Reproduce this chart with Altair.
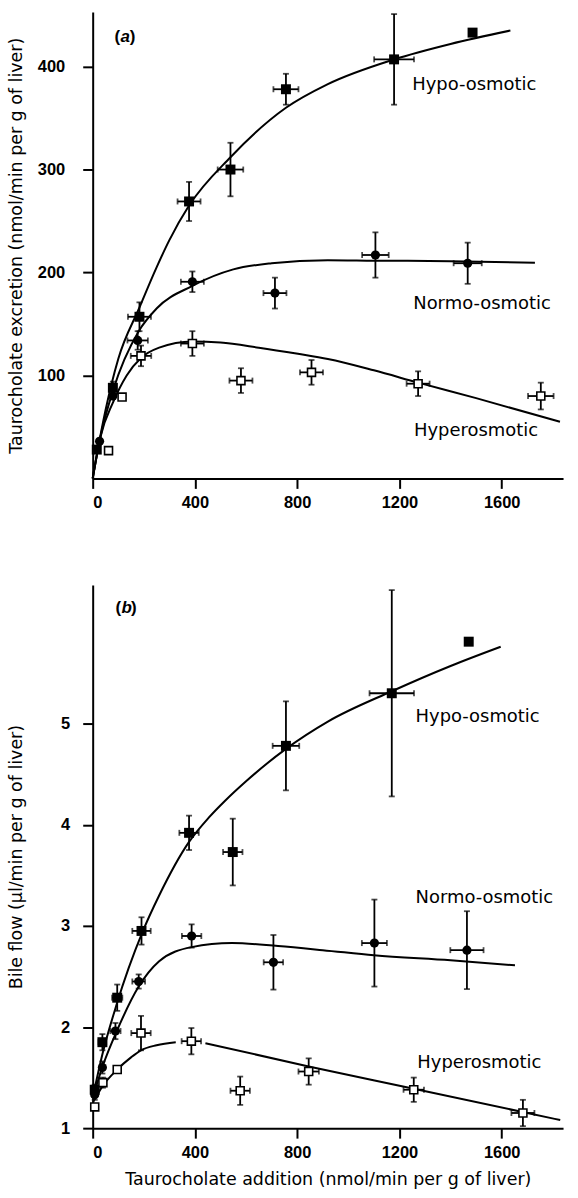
import altair as alt
import pandas as pd

X_TICKS = [0, 400, 800, 1200, 1600]
A_Y_TICKS = [100, 200, 300, 400]
B_Y_TICKS = [1, 2, 3, 4, 5]

# ---------------- Panel (a): taurocholate excretion ----------------
a_hypo_x = [16, 79, 183, 377, 539, 756, 1179, 1486]
a_hypo_y = [28, 88, 157, 269, 300, 378, 407, 433]
a_hypo_xerr = [0, 0, 45, 45, 50, 49, 78, 0]
a_hypo_yerr = [0, 6, 14, 19, 26, 15, 44, 0]

a_normo_x = [27, 79, 176, 390, 713, 1106, 1467]
a_normo_y = [36, 80, 134, 191, 180, 217, 209]
a_normo_xerr = [0, 0, 40, 45, 45, 52, 55]
a_normo_yerr = [0, 0, 9, 10, 15, 22, 20]

a_hyper_x = [62, 115, 189, 390, 580, 856, 1273, 1753]
a_hyper_y = [27, 79, 119, 131, 95, 103, 92, 80]
a_hyper_xerr = [0, 0, 40, 45, 45, 45, 45, 50]
a_hyper_yerr = [0, 0, 10, 12, 12, 12, 12, 13]

a_hypo_cx = [0, 20, 50, 100, 183, 250, 299, 377, 539, 756, 920, 1179, 1400, 1634]
a_hypo_cy = [0, 28, 66, 116, 166, 205, 231, 265, 312, 360, 383, 407, 422, 435]
a_normo_cx = [0, 30, 79, 180, 250, 390, 550, 700, 920, 1100, 1400, 1730]
a_normo_cy = [0, 40, 85, 143, 165, 187, 203, 209, 212, 211.5, 211, 209.5]
a_hyper_cx = [0, 30, 80, 133, 189, 260, 390, 500, 650, 803, 920, 1100, 1273, 1500, 1828]
a_hyper_cy = [0, 40, 74, 100, 117, 127, 133, 132, 127, 121, 116, 105, 93, 78, 55]

a_label_text = ["Hypo-osmotic", "Normo-osmotic", "Hyperosmotic"]
a_label_x = [1250, 1254, 1257]
a_label_y = [382, 169, 46.5]

# ---------------- Panel (b): bile flow ----------------
b_hypo_x = [8, 38, 96, 191, 377, 548, 756, 1170, 1471]
b_hypo_y = [1.38, 1.85, 2.29, 2.95, 3.92, 3.73, 4.78, 5.30, 5.81]
b_hypo_xerr = [0, 15, 20, 36, 38, 38, 52, 87, 0]
b_hypo_yerr = [0.05, 0.08, 0.13, 0.135, 0.17, 0.33, 0.44, 1.02, 0]

b_normo_x = [8, 38, 89, 180, 387, 707, 1102, 1464]
b_normo_y = [1.33, 1.60, 1.96, 2.45, 2.90, 2.64, 2.83, 2.76]
b_normo_xerr = [0, 0, 20, 25, 38, 38, 49, 65]
b_normo_yerr = [0.05, 0.06, 0.08, 0.07, 0.115, 0.27, 0.43, 0.385]

b_hyper_x = [8, 40, 96, 189, 386, 577, 845, 1256, 1683]
b_hyper_y = [1.21, 1.45, 1.58, 1.94, 1.86, 1.37, 1.56, 1.38, 1.15]
b_hyper_xerr = [0, 0, 0, 38, 38, 38, 40, 40, 45]
b_hyper_yerr = [0, 0.05, 0, 0.17, 0.13, 0.14, 0.13, 0.12, 0.13]

b_hypo_cx = [0, 40, 92, 195, 260, 377, 454, 519, 600, 756, 920, 1170, 1400, 1596]
b_hypo_cy = [1.30, 1.75, 2.21, 2.94, 3.30, 3.83, 4.07, 4.24, 4.43, 4.75, 5.02, 5.32, 5.57, 5.76]
b_normo_cx = [0, 40, 96, 180, 260, 387, 545, 725, 900, 1100, 1400, 1652]
b_normo_cy = [1.30, 1.62, 1.97, 2.40, 2.65, 2.79, 2.83, 2.80, 2.76, 2.71, 2.66, 2.61]
b_hyper_cx1 = [0, 40, 96, 150, 189, 250, 325]
b_hyper_cy1 = [1.25, 1.42, 1.58, 1.70, 1.77, 1.82, 1.85]
b_hyper_cx2 = [441, 845, 1256, 1829]
b_hyper_cy2 = [1.84, 1.61, 1.39, 1.08]

b_label_text = ["Hypo-osmotic", "Normo-osmotic", "Hyperosmotic"]
b_label_x = [1263, 1263, 1270]
b_label_y = [5.07, 3.28, 1.64]

TEXT_FONT = "DejaVu Sans"
NUM_FONT = "Liberation Sans"


def pts_df(x, y, xerr, yerr, kind):
    d = pd.DataFrame({"x": x, "y": y, "xerr": xerr, "yerr": yerr})
    d["kind"] = kind
    d["xlo"] = d["x"] - d["xerr"]
    d["xhi"] = d["x"] + d["xerr"]
    d["ylo"] = d["y"] - d["yerr"]
    d["yhi"] = d["y"] + d["yerr"]
    return d


def curve_df(x, y, name):
    return pd.DataFrame({"x": x, "y": y, "series": name})


def panel(pts, curves, labels, tag_x, tag_y, tag_letter, ydom, yticks, height,
          xtitle, ytitle, ylabelpad):
    xs = alt.Scale(domain=[0, 1840], nice=False, zero=False)
    ys = alt.Scale(domain=ydom, nice=False, zero=False)
    common = dict(labelFont=NUM_FONT, labelFontWeight="bold", labelFontSize=16.5,
                  labelColor="black")
    if xtitle:
        xax = alt.Axis(values=X_TICKS, format="d", title=xtitle, titlePadding=10,
                       labelPadding=6, **common)
    else:
        xax = alt.Axis(values=X_TICKS, format="d", title=None, labelPadding=6, **common)
    yax = alt.Axis(values=yticks, format="d", title=ytitle, titleX=-76,
                   titleY=height / 2, titleAngle=270, titleAlign="center",
                   titleBaseline="middle", labelPadding=ylabelpad, **common)
    X = alt.X("x:Q", scale=xs, axis=xax)
    Y = alt.Y("y:Q", scale=ys, axis=yax)

    yerr = pts[pts["yerr"] > 0]
    xerr = pts[pts["xerr"] > 0]

    vrule = alt.Chart(yerr).mark_rule(color="black", strokeWidth=1.8).encode(
        x=alt.X("x:Q", scale=xs), y=alt.Y("ylo:Q", scale=ys), y2="yhi:Q")
    vcap_lo = alt.Chart(yerr).mark_tick(color="black", orient="horizontal", size=6, thickness=1.8).encode(
        x=alt.X("x:Q", scale=xs), y=alt.Y("ylo:Q", scale=ys))
    vcap_hi = alt.Chart(yerr).mark_tick(color="black", orient="horizontal", size=6, thickness=1.8).encode(
        x=alt.X("x:Q", scale=xs), y=alt.Y("yhi:Q", scale=ys))
    hrule = alt.Chart(xerr).mark_rule(color="black", strokeWidth=1.8).encode(
        x=alt.X("xlo:Q", scale=xs), x2="xhi:Q", y=alt.Y("y:Q", scale=ys))
    hcap_lo = alt.Chart(xerr).mark_tick(color="black", orient="vertical", size=6, thickness=1.8).encode(
        x=alt.X("xlo:Q", scale=xs), y=alt.Y("y:Q", scale=ys))
    hcap_hi = alt.Chart(xerr).mark_tick(color="black", orient="vertical", size=6, thickness=1.8).encode(
        x=alt.X("xhi:Q", scale=xs), y=alt.Y("y:Q", scale=ys))

    lines = alt.Chart(curves).mark_line(color="black", strokeWidth=2, interpolate="monotone").encode(
        x=X, y=Y, detail="series:N")

    fsq = alt.Chart(pts[pts["kind"] == "hypo"]).mark_point(
        shape="square", filled=True, color="black", size=100, opacity=1).encode(
        x=alt.X("x:Q", scale=xs), y=alt.Y("y:Q", scale=ys))
    fci = alt.Chart(pts[pts["kind"] == "normo"]).mark_point(
        shape="circle", filled=True, color="black", size=85, opacity=1).encode(
        x=alt.X("x:Q", scale=xs), y=alt.Y("y:Q", scale=ys))
    osq = alt.Chart(pts[pts["kind"] == "hyper"]).mark_point(
        shape="square", filled=True, fill="white", stroke="black", strokeWidth=1.6,
        size=64, opacity=1, fillOpacity=1).encode(
        x=alt.X("x:Q", scale=xs), y=alt.Y("y:Q", scale=ys))

    txt = alt.Chart(labels).mark_text(align="left", baseline="middle", font=TEXT_FONT,
                                      fontSize=18, color="black").encode(
        x=alt.X("x:Q", scale=xs), y=alt.Y("y:Q", scale=ys), text="text:N")

    tag = pd.DataFrame({"x": [tag_x], "y": [tag_y]})
    t1 = alt.Chart(tag).mark_text(align="left", baseline="middle", font=NUM_FONT, fontSize=17,
                                  fontWeight="bold", color="black", text="(").encode(
        x=alt.X("x:Q", scale=xs), y=alt.Y("y:Q", scale=ys))
    t2 = alt.Chart(tag).mark_text(align="left", baseline="middle", font=NUM_FONT, fontSize=17,
                                  fontWeight="bold", fontStyle="italic", color="black",
                                  text=tag_letter, dx=6).encode(
        x=alt.X("x:Q", scale=xs), y=alt.Y("y:Q", scale=ys))
    t3 = alt.Chart(tag).mark_text(align="left", baseline="middle", font=NUM_FONT, fontSize=17,
                                  fontWeight="bold", color="black", text=")", dx=15.5).encode(
        x=alt.X("x:Q", scale=xs), y=alt.Y("y:Q", scale=ys))

    return alt.layer(lines, vrule, vcap_lo, vcap_hi, hrule, hcap_lo, hcap_hi,
                     fsq, fci, osq, txt, t1, t2, t3).properties(width=472, height=height)


a_pts = pd.concat([
    pts_df(a_hypo_x, a_hypo_y, a_hypo_xerr, a_hypo_yerr, "hypo"),
    pts_df(a_normo_x, a_normo_y, a_normo_xerr, a_normo_yerr, "normo"),
    pts_df(a_hyper_x, a_hyper_y, a_hyper_xerr, a_hyper_yerr, "hyper"),
], ignore_index=True)
a_curves = pd.concat([
    curve_df(a_hypo_cx, a_hypo_cy, "hypo"),
    curve_df(a_normo_cx, a_normo_cy, "normo"),
    curve_df(a_hyper_cx, a_hyper_cy, "hyper"),
], ignore_index=True)
a_labels = pd.DataFrame({"x": a_label_x, "y": a_label_y, "text": a_label_text})

b_pts = pd.concat([
    pts_df(b_hypo_x, b_hypo_y, b_hypo_xerr, b_hypo_yerr, "hypo"),
    pts_df(b_normo_x, b_normo_y, b_normo_xerr, b_normo_yerr, "normo"),
    pts_df(b_hyper_x, b_hyper_y, b_hyper_xerr, b_hyper_yerr, "hyper"),
], ignore_index=True)
b_curves = pd.concat([
    curve_df(b_hypo_cx, b_hypo_cy, "hypo"),
    curve_df(b_normo_cx, b_normo_cy, "normo"),
    curve_df(b_hyper_cx1, b_hyper_cy1, "hyper1"),
    curve_df(b_hyper_cx2, b_hyper_cy2, "hyper2"),
], ignore_index=True)
b_labels = pd.DataFrame({"x": b_label_x, "y": b_label_y, "text": b_label_text})

top = panel(a_pts, a_curves, a_labels, 85, 429, "a", [0, 453], A_Y_TICKS, 468,
            None, "Taurocholate excretion (nmol/min per g of liver)", 18)
bottom = panel(b_pts, b_curves, b_labels, 89, 6.14, "b", [1, 6.37], B_Y_TICKS, 545,
               "Taurocholate addition (nmol/min per g of liver)",
               "Bile flow (\u03bcl/min per g of liver)", 13)

chart = alt.vconcat(top, bottom, spacing=107, bounds="flush").properties(
    padding={"left": 7, "top": 10, "right": 13, "bottom": 3},
    background="white",
).configure_view(strokeWidth=0).configure_axis(
    domainColor="black", domainWidth=2, tickColor="black", tickWidth=2, tickSize=10,
    titleFont=TEXT_FONT, titleFontWeight="normal", titleFontSize=17.5, titleColor="black",
    grid=False,
)

chart.save("out.html", embed_options={"renderer": "svg", "actions": False})
